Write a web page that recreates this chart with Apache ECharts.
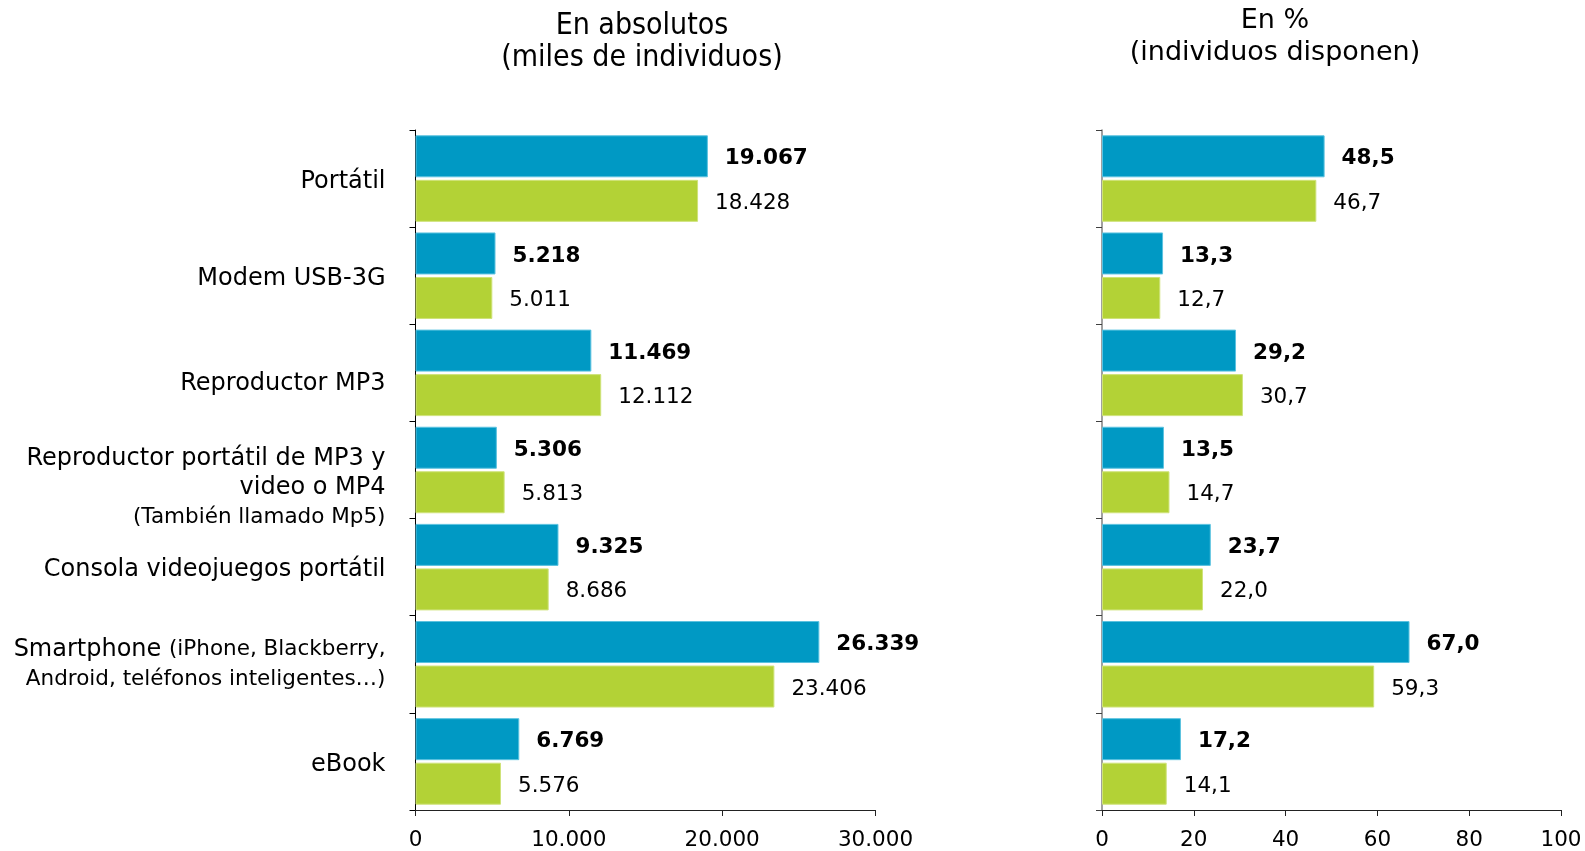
<!DOCTYPE html>
<html>
<head>
<meta charset="utf-8">
<script src="https://cdn.jsdelivr.net/npm/echarts@6/dist/echarts.min.js"></script>
<style>html,body{margin:0;padding:0;background:#fff}#c{width:1585px;height:851px}</style>
</head>
<body>
<div id="c"></div>
<script>
const categories = [
  'Portátil',
  'Modem USB-3G',
  'Reproductor MP3',
  'Reproductor portátil de MP3 y|video o MP4|(También llamado Mp5)',
  'Consola videojuegos portátil',
  'Smartphone (iPhone, Blackberry,|Android, teléfonos inteligentes…)',
  'eBook'
];
const absBlue  = [19067, 5218, 11469, 5306, 9325, 26339, 6769];
const absGreen = [18428, 5011, 12112, 5813, 8686, 23406, 5576];
const pctBlue  = [48.5, 13.3, 29.2, 13.5, 23.7, 67.0, 17.2];
const pctGreen = [46.7, 12.7, 30.7, 14.7, 22.0, 59.3, 14.1];
const absTicks = {min: 0, max: 30000, interval: 10000};
const pctTicks = {min: 0, max: 100, interval: 20};

const BLUE = '#0099c4', GREEN = '#b3d236';
const FONT = 'DejaVu Sans, Verdana, sans-serif';

function fmtThousands(v) {
  return String(Math.round(v)).replace(/\B(?=(\d{3})+(?!\d))/g, '.');
}
function fmtPct(v) { return v.toFixed(1).replace('.', ','); }

function catLabel(value, idx) {
  if (idx === 3) {
    const p = value.split('|');
    return '{p37|}\n{m|' + p[0] + '}\n{m|' + p[1] + '}\n{s|' + p[2] + '}';
  }
  if (idx === 5) {
    const p = value.split('|');
    const first = p[0].replace(' (', '|(').split('|');
    return '{m|' + first[0] + ' }{s|' + first[1] + '}\n{s|' + p[1] + '}';
  }
  if (idx === 2) return '{p22|}\n{m|' + value + '}';
  return '{p6|}\n{m|' + value + '}';
}

const chart = echarts.init(document.getElementById('c'), null, {renderer: 'canvas'});

function barSeries(data, color, border, bold, xi, fmt) {
  return {
    type: 'bar', xAxisIndex: xi, yAxisIndex: xi, data: data,
    barWidth: 42, barGap: '6%',
    itemStyle: {color: color, borderColor: border, borderWidth: 1},
    label: {
      show: true, position: 'right', distance: 17, offset: [0, 2.5],
      fontFamily: FONT, fontSize: 21.5, color: '#000',
      fontWeight: bold ? 'bold' : 'normal',
      formatter: p => fmt(p.value)
    },
    emphasis: {disabled: true}, animation: false
  };
}

chart.setOption({
  animation: false,
  title: [
    {text: 'En absolutos\n(miles de individuos)', left: 637, top: 5, textAlign: 'center',
     textStyle: {fontFamily: 'DejaVu Sans Condensed, sans-serif', fontWeight: 'normal', fontSize: 30, lineHeight: 32, color: '#000'}},
    {text: 'En %\n(individuos disponen)', left: 1270, top: 0, textAlign: 'center',
     textStyle: {fontFamily: FONT, fontWeight: 'normal', fontSize: 27, lineHeight: 32, color: '#000'}}
  ],
  grid: [
    {left: 415.5, top: 130, width: 460, height: 681},
    {left: 1102, top: 130, width: 459, height: 681}
  ],
  xAxis: [
    {type: 'value', gridIndex: 0, min: absTicks.min, max: absTicks.max, interval: absTicks.interval,
     splitLine: {show: false},
     axisLine: {show: true, lineStyle: {color: '#222', width: 1}},
     axisTick: {show: true, length: 6, lineStyle: {color: '#222'}},
     axisLabel: {fontFamily: FONT, fontSize: 21.5, color: '#000', margin: 19, formatter: v => fmtThousands(v)}},
    {type: 'value', gridIndex: 1, min: pctTicks.min, max: pctTicks.max, interval: pctTicks.interval,
     splitLine: {show: false},
     axisLine: {show: true, lineStyle: {color: '#222', width: 1}},
     axisTick: {show: true, length: 6, lineStyle: {color: '#222'}},
     axisLabel: {fontFamily: FONT, fontSize: 21.5, color: '#000', margin: 19, formatter: v => String(v)}}
  ],
  yAxis: [
    {type: 'category', gridIndex: 0, data: categories, inverse: true,
     axisLine: {show: true, lineStyle: {color: '#000', width: 1}},
     axisTick: {show: true, length: 6, lineStyle: {color: '#000'}},
     axisLabel: {margin: 30, color: '#000', formatter: catLabel,
       rich: {
         m: {fontFamily: FONT, fontSize: 24, lineHeight: 29, color: '#000', align: 'right'},
         s: {fontFamily: FONT, fontSize: 21.5, lineHeight: 30, color: '#000', align: 'right'},
         p37: {fontSize: 8, lineHeight: 37},
         p22: {fontSize: 8, lineHeight: 22},
         p6: {fontSize: 4, lineHeight: 6}
       }}},
    {type: 'category', gridIndex: 1, data: categories, inverse: true,
     axisLine: {show: true, lineStyle: {color: '#808080', width: 1.5}},
     axisTick: {show: true, length: 6, lineStyle: {color: '#404040'}},
     axisLabel: {show: false}}
  ],
  series: [
    barSeries(absBlue, BLUE, '#5cc3e0', true, 0, fmtThousands),
    barSeries(absGreen, GREEN, '#cfe37a', false, 0, fmtThousands),
    barSeries(pctBlue, BLUE, '#5cc3e0', true, 1, fmtPct),
    barSeries(pctGreen, GREEN, '#cfe37a', false, 1, fmtPct)
  ]
});
</script>
</body>
</html>
